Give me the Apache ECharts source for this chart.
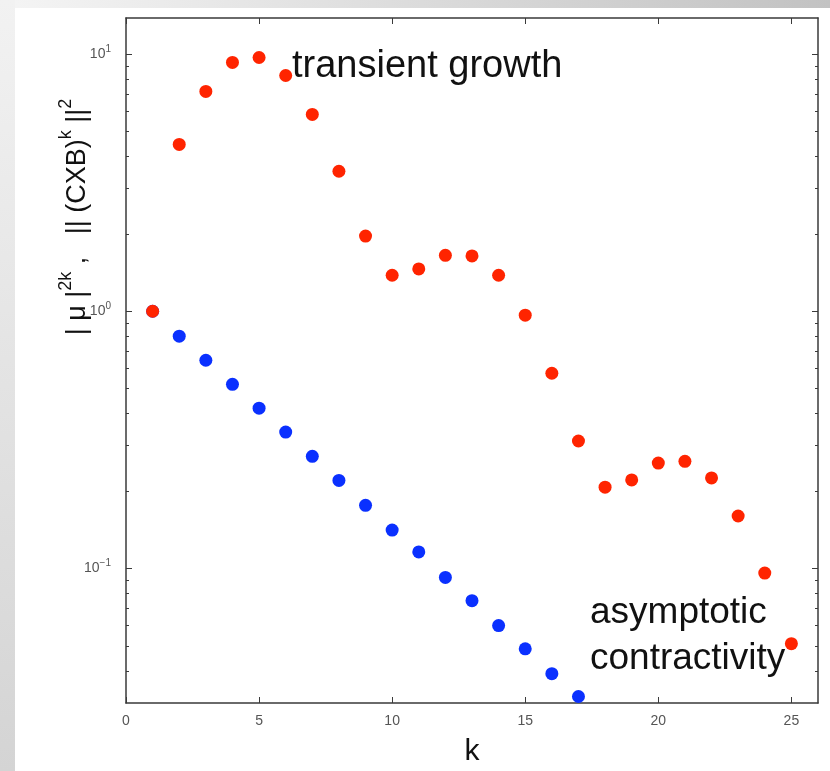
<!DOCTYPE html>
<html>
<head>
<meta charset="utf-8">
<script src="https://cdn.jsdelivr.net/npm/echarts@6/dist/echarts.min.js"></script>
<style>
  html, body { margin: 0; padding: 0; background: #fff; }
  #chart { width: 830px; height: 771px; }
</style>
</head>
<body>
<div id="chart"></div>
<script>
var steps = [1, 2, 3, 4, 5, 6, 7, 8, 9, 10, 11, 12, 13, 14, 15, 16, 17, 18, 19, 20, 21, 22, 23, 24, 25];
// ||(CXB)^k||^2
var normVals = [1.0, 4.45, 7.15, 9.27, 9.69, 8.25, 5.82, 3.5, 1.96, 1.38, 1.46, 1.65, 1.64, 1.38,
  0.965, 0.574, 0.313, 0.207, 0.221, 0.257, 0.261, 0.225, 0.16, 0.096, 0.051];
// |mu|^2k
var muSteps = [1, 2, 3, 4, 5, 6, 7, 8, 9, 10, 11, 12, 13, 14, 15, 16, 17];
var muVals = [1.0, 0.8, 0.645, 0.52, 0.42, 0.339, 0.273, 0.22, 0.176, 0.141, 0.116, 0.0923,
  0.075, 0.06, 0.0487, 0.039, 0.0318];
var xTicks = [0, 5, 10, 15, 20, 25];
var yTicks = [0.1, 1, 10];
var yMinorTicks = [0.04, 0.05, 0.06, 0.07, 0.08, 0.09, 0.2, 0.3, 0.4, 0.5, 0.6, 0.7, 0.8, 0.9,
  2, 3, 4, 5, 6, 7, 8, 9];

function pairs(xs, ys) {
  return xs.map(function(x, i) { return [x, ys[i]]; });
}

var axisColor = '#3a3a3a';
var yMin = 0.03, yMax = 13.8;

function logAxis(pos, ticks, len, showLine, showLabel) {
  return {
    type: 'log',
    logBase: 10,
    min: yMin,
    max: yMax,
    position: pos,
    splitLine: { show: false },
    axisLine: { show: showLine, lineStyle: { color: axisColor, width: 1.5 } },
    axisTick: { show: true, inside: true, length: len, customValues: ticks,
      lineStyle: { color: axisColor, width: 1 } },
    axisLabel: {
      show: showLabel,
      customValues: ticks,
      margin: 15,
      color: '#555',
      fontSize: 14,
      lineHeight: 20,
      fontFamily: 'Liberation Sans',
      formatter: function(v) {
        var e = Math.round(Math.log10(v));
        return '10{s|' + (e < 0 ? '\u2212' + (-e) : e) + '}';
      },
      rich: { s: { fontSize: 10, verticalAlign: 'top', color: '#555', fontFamily: 'Liberation Sans' } }
    }
  };
}

function linAxis(pos, showLabel) {
  return {
    type: 'value',
    min: 0,
    max: 26,
    position: pos,
    splitLine: { show: false },
    axisLine: { show: true, onZero: false, lineStyle: { color: axisColor, width: 1.5 } },
    axisTick: { show: true, inside: true, length: 6, customValues: xTicks,
      lineStyle: { color: axisColor, width: 1 } },
    axisLabel: { show: showLabel, customValues: xTicks, margin: 11, color: '#555',
      fontSize: 14, fontFamily: 'Liberation Sans' }
  };
}

var xBottom = linAxis('bottom', true);
xBottom.name = 'k';
xBottom.nameLocation = 'middle';
xBottom.nameGap = 34;
xBottom.nameTextStyle = { fontSize: 30, color: '#111', fontFamily: 'Liberation Sans' };

var chart = echarts.init(document.getElementById('chart'));
chart.setOption({
  backgroundColor: '#fff',
  animation: false,
  grid: { left: 126, right: 12, top: 18, bottom: 68, containLabel: false, outerBoundsMode: 'none' },
  xAxis: [xBottom, linAxis('top', false)],
  yAxis: [
    logAxis('left', yTicks, 6, true, true),
    logAxis('left', yMinorTicks, 3, false, false),
    logAxis('right', yTicks, 6, true, false),
    logAxis('right', yMinorTicks, 3, false, false)
  ],
  graphic: [
    { type: 'rect', left: 0, top: 0, z: -10, shape: { width: 15, height: 771 },
      style: { fill: new echarts.graphic.LinearGradient(0, 0, 0, 1, [
        { offset: 0, color: '#f2f2f2' }, { offset: 1, color: '#d4d4d4' }]) } },
    { type: 'rect', left: 15, top: 0, z: -10, shape: { width: 815, height: 8 },
      style: { fill: new echarts.graphic.LinearGradient(0, 0, 1, 0, [
        { offset: 0, color: '#f4f4f4' }, { offset: 1, color: '#c2c2c2' }]) } },
    { type: 'text', x: 78, y: 217, rotation: Math.PI / 2, z: 5,
      style: {
        text: '{m|| \u03bc |}{s|2k}{m| ,   || (CXB)}{s|k}{m| ||}{s|2}',
        align: 'center', verticalAlign: 'middle',
        rich: {
          m: { fontSize: 27, lineHeight: 42, fill: '#111', fontFamily: 'Liberation Sans' },
          s: { fontSize: 18, verticalAlign: 'top', fill: '#111', fontFamily: 'Liberation Sans' }
        }
      } },
    { type: 'text', x: 292, y: 67, z: 1,
      style: { text: 'transient growth', fontSize: 38, fill: '#111', fontFamily: 'Liberation Sans',
        verticalAlign: 'middle' } },
    { type: 'text', x: 590, y: 613, z: 1,
      style: { text: 'asymptotic', fontSize: 37, fill: '#111', fontFamily: 'Liberation Sans',
        verticalAlign: 'middle' } },
    { type: 'text', x: 590, y: 659, z: 1,
      style: { text: 'contractivity', fontSize: 37, fill: '#111', fontFamily: 'Liberation Sans',
        verticalAlign: 'middle' } }
  ],
  series: [
    {
      type: 'scatter',
      name: 'mu',
      symbolSize: 13,
      itemStyle: { color: '#0a30ff', opacity: 1 },
      data: pairs(muSteps, muVals),
      z: 3
    },
    {
      type: 'scatter',
      name: 'norm',
      symbolSize: 13,
      itemStyle: { color: '#ff2400', opacity: 1 },
      data: pairs(steps, normVals),
      z: 4
    }
  ]
});
</script>
</body>
</html>
